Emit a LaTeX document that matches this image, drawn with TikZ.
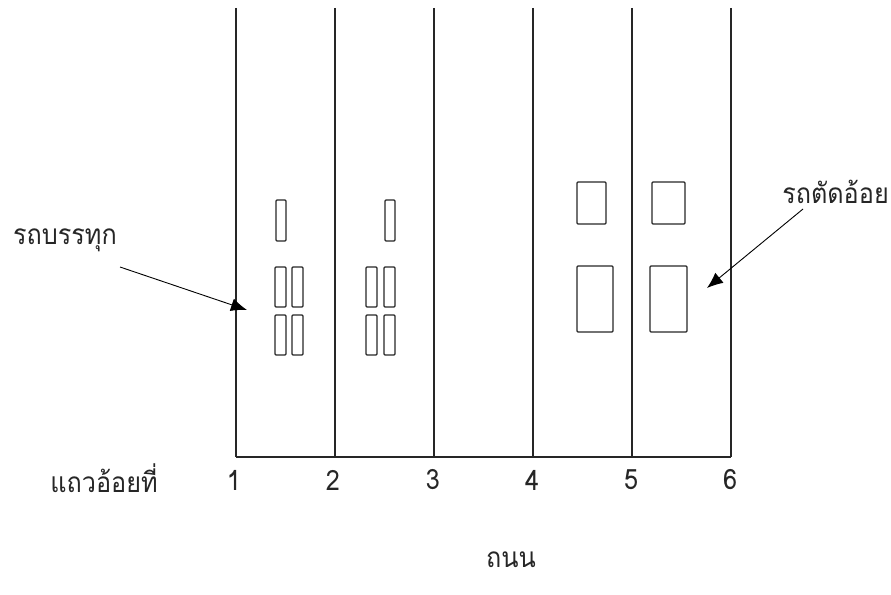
\documentclass[tikz,border=0pt]{standalone}
\usepackage{fontspec}
\newfontfamily\thaifont[Script=Thai,FakeStretch=0.9]{Loma}
\usetikzlibrary{arrows.meta}
\begin{document}
\begin{tikzpicture}[x=1pt,y=-1pt,
  lane/.style={line width=1.3pt, draw=black!85},
  veh/.style={draw=black!85, line width=1.2pt, rounded corners=1pt},
  lbl/.style={font=\thaifont\fontsize{28}{30}\selectfont, inner sep=0pt, text=black!85},
  ptr/.style={-{Latex[length=16pt,width=13pt]}, line width=0.9pt}]
\useasboundingbox (0,0) rectangle (891,594);
% lanes
\foreach \i/\x in {1/236,2/335,3/434,4/533,5/632,6/731} {
  \coordinate (t\i) at (\x,8);
  \coordinate (b\i) at (\x,457);
  \draw[lane] (t\i) -- (b\i);
}
\draw[lane] (b1) -- (b6);
% trucks (lane 1)
\draw[veh] (276,200) rectangle (286,241);
\draw[veh] (275,267) rectangle (286,307);
\draw[veh] (292,267) rectangle (303,307);
\draw[veh] (275,315) rectangle (286,355);
\draw[veh] (292,315) rectangle (303,355);
% trucks (lane 2)
\draw[veh] (385,200) rectangle (395,241);
\draw[veh] (366,267) rectangle (377,307);
\draw[veh] (384,267) rectangle (395,307);
\draw[veh] (366,315) rectangle (377,355);
\draw[veh] (384,315) rectangle (395,355);
% cane harvesters
\draw[veh] (577,182) rectangle (606,224);
\draw[veh] (577,266) rectangle (613,332);
\draw[veh] (652,182) rectangle (685,224);
\draw[veh] (650,266) rectangle (687,332);
% labels
\node[lbl] (truck) at (65,240) {รถบรรทุก};
\node[lbl, anchor=east] (cutter) at (889,192) {รถตัดอ้อย};
\node[lbl] (rowlbl) at (104,478) {แถวอ้อยที่};
\foreach \i/\x in {1/234,2/333,3/433,4/532,5/631,6/730} {
  \node[lbl] (n\i) at (\x,480) {\i};
}
\node[lbl] (road) at (511,560) {ถนน};
% arrows
\coordinate (a1s) at (120,267);
\coordinate (a1e) at (247,310);
\draw[ptr] (a1s) -- (a1e);
\coordinate (a2s) at (803,209);
\coordinate (a2e) at (707,288);
\draw[ptr] (a2s) -- (a2e);
\end{tikzpicture}
\end{document}
